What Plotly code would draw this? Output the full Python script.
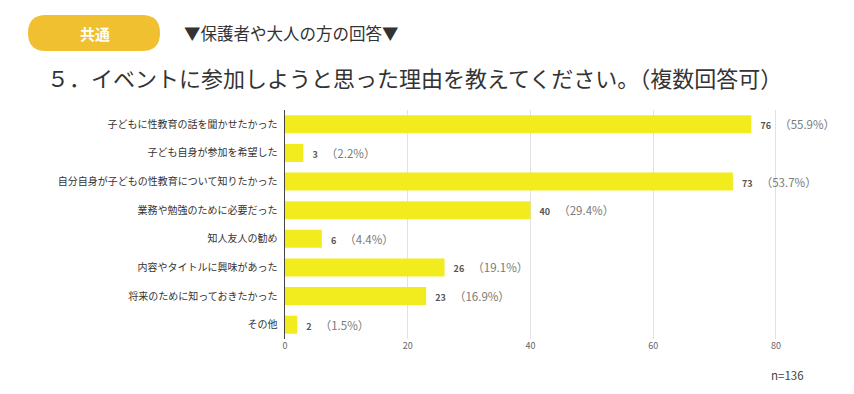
import plotly.graph_objects as go

categories = [
    "子どもに性教育の話を聞かせたかった",
    "子ども自身が参加を希望した",
    "自分自身が子どもの性教育について知りたかった",
    "業務や勉強のために必要だった",
    "知人友人の勧め",
    "内容やタイトルに興味があった",
    "将来のために知っておきたかった",
    "その他",
]
counts = [76, 3, 73, 40, 6, 26, 23, 2]
percents = ["55.9%", "2.2%", "53.7%", "29.4%", "4.4%", "19.1%", "16.9%", "1.5%"]
tick_vals = [0, 20, 40, 60, 80]
n_total = 136

FONT = "Noto Sans CJK JP"
BAR = "#F2EC1E"

W, H = 854, 394
L, R, T, B = 285, 29, 110, 55
pw, ph = W - L - R, H - T - B


def px(x):
    return (x - L) / pw


def py(y):
    return 1 - (y - T) / ph


fig = go.Figure()
fig.add_trace(go.Bar(
    x=counts, y=categories, orientation="h",
    marker=dict(color=BAR, line=dict(width=0)),
    width=0.63,
    text=[f"   <b>{c}</b>    <span style='font-size:11.5px;color:#7a7a7a'>（{p}）</span>"
          for c, p in zip(counts, percents)],
    textposition="outside",
    textfont=dict(family=FONT, size=9, color="#555"),
    cliponaxis=False,
    hoverinfo="skip",
))

pill = [(28, 15), (142, 15), (160, 15), (160, 33), (160, 51), (142, 51),
        (46, 51), (28, 51), (28, 33), (28, 15), (46, 15)]
P = [f"{px(x):.5f},{py(y):.5f}" for x, y in pill]
pill_path = (f"M {P[10]} L {P[1]} Q {P[2]} {P[3]} Q {P[4]} {P[5]} "
             f"L {P[6]} Q {P[7]} {P[8]} Q {P[9]} {P[10]} Z")

fig.update_layout(
    width=W, height=H,
    margin=dict(l=L, r=R, t=T, b=B),
    paper_bgcolor="white", plot_bgcolor="white",
    showlegend=False,
    font=dict(family=FONT, color="#333"),
    xaxis=dict(
        range=[0, 88], tickvals=tick_vals, showgrid=True, gridcolor="#E2E2E2",
        gridwidth=1, zeroline=False, showline=False,
        tickfont=dict(family=FONT, size=9, color="#666"), ticks="", ticklen=0,
    ),
    yaxis=dict(
        autorange="reversed", showline=True, linecolor="#444", linewidth=1,
        ticks="", tickfont=dict(family=FONT, size=10, color="#333"),
        ticksuffix="  ",
    ),
    shapes=[
        dict(type="path", xref="paper", yref="paper", path=pill_path,
             fillcolor="#F0C030", line=dict(width=0), layer="above"),
    ],
    annotations=[
        dict(text="<b>共通</b>", x=px(95), y=py(33), xanchor="center", yanchor="middle",
             xref="paper", yref="paper", showarrow=False,
             font=dict(family=FONT, size=15, color="white")),
        dict(text="▼保護者や大人の方の回答▼", x=px(182), y=py(33), xanchor="left", yanchor="middle",
             xref="paper", yref="paper", showarrow=False,
             font=dict(family=FONT, size=16.5, color="#333")),
        dict(text="５．イベントに参加しようと思った理由を教えてください。（複数回答可）",
             x=px(45), y=py(77), xanchor="left", yanchor="middle",
             xref="paper", yref="paper", showarrow=False,
             font=dict(family=FONT, size=22, color="#333")),
        dict(text=f"n={n_total}", x=px(806), y=py(375), xanchor="right", yanchor="middle",
             xref="paper", yref="paper", showarrow=False,
             font=dict(family=FONT, size=11.5, color="#444")),
    ],
)

fig.write_html("out.html", config={"displayModeBar": False})

# remove default body margin so the figure sits at the page origin
with open("out.html", "r", encoding="utf-8") as f:
    html = f.read()
html = html.replace("<body>", "<body style=\"margin:0\">", 1)
with open("out.html", "w", encoding="utf-8") as f:
    f.write(html)
